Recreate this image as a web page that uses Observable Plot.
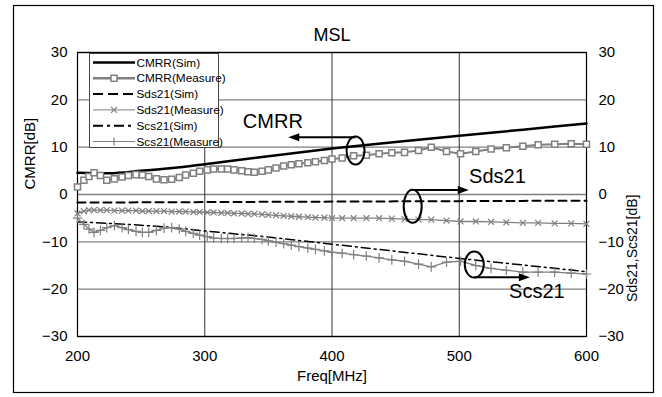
<!DOCTYPE html>
<html><head><meta charset="utf-8">
<script src="https://cdn.jsdelivr.net/npm/d3@7"></script>
<script src="https://cdn.jsdelivr.net/npm/@observablehq/plot@0.6"></script>
<style>body{margin:0;background:#fff}#chart{width:662px;height:397px}</style>
</head><body><div id="chart"></div>
<script>
// Measurement frequencies (MHz)
const freq = [200,205,209,213,218,223,229,235,240,246,251,256,262,268,274,280,285,291,296,302,307,313,318,323,329,334,339,345,350,356,362,368,374,381,387,394,400,408,417,427,437,447,457,468,478,490,501,513,525,537,550,562,575,588,600];
const cmrrMeasure = [1.6,3.0,3.8,4.6,4.0,3.0,3.3,3.7,4.0,4.2,4.1,3.8,3.3,3.1,3.2,3.6,4.1,4.5,4.9,5.2,5.4,5.4,5.4,5.2,5.0,4.8,4.7,4.9,5.2,5.6,6.0,6.3,6.5,6.7,6.9,7.2,7.5,7.7,8.2,8.3,8.6,8.8,8.9,9.3,10.0,9.1,8.6,9.1,9.6,9.9,10.2,10.5,10.6,10.7,10.6];
const sds21Measure = [-4.0,-3.5,-3.3,-3.3,-3.3,-3.3,-3.4,-3.4,-3.4,-3.4,-3.5,-3.5,-3.5,-3.5,-3.6,-3.6,-3.6,-3.7,-3.7,-3.8,-3.8,-3.9,-3.9,-4.0,-4.0,-4.1,-4.1,-4.2,-4.3,-4.4,-4.5,-4.6,-4.7,-4.8,-4.9,-4.9,-5.0,-5.0,-5.0,-5.0,-5.0,-5.1,-5.2,-5.3,-5.3,-5.5,-5.7,-5.7,-5.8,-5.9,-6.0,-6.0,-6.1,-6.1,-6.2];
const scs21Measure = [-5.0,-6.3,-7.3,-8.0,-7.6,-7.0,-6.6,-7.0,-7.4,-7.8,-8.0,-8.0,-7.6,-7.1,-7.0,-7.3,-7.8,-8.2,-8.6,-8.9,-9.2,-9.3,-9.3,-9.3,-9.2,-9.1,-9.3,-9.5,-9.8,-10.1,-10.4,-10.7,-11.0,-11.3,-11.6,-11.9,-12.2,-12.4,-12.7,-13.0,-13.4,-13.8,-14.1,-14.7,-15.3,-14.3,-14.1,-15.0,-15.6,-16.0,-16.4,-16.4,-16.4,-16.6,-16.8];
// Simulation
const simFreq = [200,225,250,275,300,350,400,450,500,550,600];
const cmrrSim = [4.6,4.5,5.0,5.6,6.4,8.1,9.7,11.1,12.4,13.7,15.0];
const sds21Sim = [-1.7,-1.7,-1.65,-1.65,-1.6,-1.55,-1.5,-1.45,-1.4,-1.35,-1.3];
const scs21Sim = [-5.8,-6.1,-6.5,-7.0,-7.7,-9.0,-10.5,-12.0,-13.5,-14.9,-16.3];
// Ticks & labels
const yTicks = [-30,-20,-10,0,10,20,30];
const xTicks = [200,300,400,500,600];
const legendLabels = ["CMRR(Sim)","CMRR(Measure)","Sds21(Sim)","Sds21(Measure)","Scs21(Sim)","Scs21(Measure)"];
const calloutNames = ["CMRR","Sds21","Scs21"];
// Callout anchors (data coordinates)
const calloutText = [[353.5,15.4],[530,3.8],[561,-20.6]];
const calloutEllipse = [[418.9,9.2],[463.8,-2.6],[512.2,-14.9]];
const calloutArrow = [[418.9,12.0,366],[463.8,0.84,507.9],[512.2,-17.6,555.9]];

const meas = freq.map((f,i)=>({f, cmrr:cmrrMeasure[i], sds:sds21Measure[i], scs:scs21Measure[i]}));
const sim = simFreq.map((f,i)=>({f, cmrr:cmrrSim[i], sds:sds21Sim[i], scs:scs21Sim[i]}));
const texts = calloutNames.map((n,i)=>({n, x:calloutText[i][0], y:calloutText[i][1]}));

const GRAY = "#808080";
const FONT = "'Liberation Sans', Arial, sans-serif";

function decor(index, scales, values, dims) {
  const {x, y} = scales;
  const g = d3.create("svg:g");
  g.append("rect").attr("x",13.5).attr("y",5.5).attr("width",640).attr("height",387)
    .attr("fill","none").attr("stroke","#000").attr("stroke-width",1.2);
  const radii = [[9,14],[9,16.5],[9.5,13]];
  calloutNames.forEach((n,i)=>{
    const [ex,ey] = calloutEllipse[i];
    g.append("ellipse").attr("cx",x(ex)).attr("cy",y(ey)).attr("rx",radii[i][0]).attr("ry",radii[i][1])
      .attr("fill","none").attr("stroke","#000").attr("stroke-width",2);
    const [ax1,ay,ax2] = calloutArrow[i];
    const x1 = x(ax1), x2 = x(ax2), yy = y(ay);
    const dir = Math.sign(x2-x1);
    g.append("line").attr("x1",x1).attr("x2",x2-dir*8).attr("y1",yy).attr("y2",yy)
      .attr("stroke","#000").attr("stroke-width",2);
    g.append("path").attr("d",`M${x2},${yy}L${x2-dir*11},${yy-4}L${x2-dir*11},${yy+4}Z`).attr("fill","#000");
  });
  // legend
  const lx = 89.5, ly = 53.5;
  const lg = g.append("g");
  lg.append("rect").attr("x",lx).attr("y",ly).attr("width",129).attr("height",94)
    .attr("fill","#fff").attr("stroke","#444").attr("stroke-width",1);
  const styles = [
    {stroke:"#000", w:2.5, dash:null, m:null},
    {stroke:GRAY, w:2.5, dash:null, m:"square"},
    {stroke:"#000", w:2, dash:"10,5", m:null},
    {stroke:GRAY, w:1, dash:null, m:"times"},
    {stroke:"#000", w:2, dash:"10,4,3,4", m:null},
    {stroke:GRAY, w:1, dash:null, m:"plus"}
  ];
  legendLabels.forEach((lab,i)=>{
    const cy = 62.5 + i*15.8;
    const s = styles[i];
    lg.append("line").attr("x1",93).attr("x2",135).attr("y1",cy).attr("y2",cy)
      .attr("stroke",s.stroke).attr("stroke-width",s.w).attr("stroke-dasharray",s.dash);
    const mx = 114;
    if (s.m==="square") lg.append("rect").attr("x",mx-3).attr("y",cy-3).attr("width",6).attr("height",6)
      .attr("fill","#fff").attr("stroke",GRAY).attr("stroke-width",1.5);
    if (s.m==="times") lg.append("path").attr("d",`M${mx-3},${cy-3}L${mx+3},${cy+3}M${mx-3},${cy+3}L${mx+3},${cy-3}`)
      .attr("stroke",GRAY).attr("stroke-width",1.2);
    if (s.m==="plus") lg.append("path").attr("d",`M${mx-4},${cy}L${mx+4},${cy}M${mx},${cy-4}L${mx},${cy+4}`)
      .attr("stroke",GRAY).attr("stroke-width",1.2);
    lg.append("text").attr("x",136.5).attr("y",cy).attr("dy","0.35em").attr("font-size",11.8)
      .attr("text-anchor","start").attr("fill","#000").text(lab);
  });
  return g.node();
}

const chart = Plot.plot({
  width: 662, height: 397,
  marginLeft: 77, marginRight: 76, marginTop: 52, marginBottom: 61,
  style: {fontFamily: FONT, fontSize: "15px", background: "#fff", color: "#000"},
  x: {domain: [200, 600]},
  y: {domain: [-30, 30]},
  marks: [
    Plot.gridY(yTicks, {stroke: GRAY, strokeOpacity: 1, strokeWidth: 1.3}),
    Plot.gridX([300,400,500], {stroke: "#333", strokeOpacity: 1, strokeWidth: 1}),
    Plot.frame({stroke: "#000", strokeWidth: 1.2}),
    Plot.axisY(yTicks, {anchor: "left", tickSize: 0, tickPadding: 10, label: null}),
    Plot.axisY(yTicks, {anchor: "right", tickSize: 0, tickPadding: 12, label: null}),
    Plot.axisX(xTicks, {anchor: "bottom", tickSize: 0, tickPadding: 14, label: null}),
    // Scs21
    Plot.line(sim, {x: "f", y: "scs", stroke: "#000", strokeWidth: 1.5, strokeDasharray: "9,4,2,4", curve: "monotone-x"}),
    Plot.line(meas, {x: "f", y: "scs", stroke: GRAY, strokeWidth: 1.3}),
    Plot.dot(meas, {x: "f", y: "scs", symbol: "plus", r: 3.2, stroke: GRAY, strokeWidth: 1.2}),
    // Sds21
    Plot.line(sim, {x: "f", y: "sds", stroke: "#000", strokeWidth: 2, strokeDasharray: "8,5"}),
    Plot.line(meas, {x: "f", y: "sds", stroke: GRAY, strokeWidth: 1.3}),
    Plot.dot(meas, {x: "f", y: "sds", symbol: "times", r: 2.8, stroke: GRAY, strokeWidth: 1.2}),
    // CMRR
    Plot.line(sim, {x: "f", y: "cmrr", stroke: "#000", strokeWidth: 2.5, curve: "monotone-x"}),
    Plot.line(meas, {x: "f", y: "cmrr", stroke: GRAY, strokeWidth: 2}),
    Plot.dot(meas, {x: "f", y: "cmrr", symbol: "square", r: 3.4, fill: "#fff", stroke: GRAY, strokeWidth: 1.5}),
    // callout texts
    Plot.text(texts, {x: "x", y: "y", text: "n", fontSize: 20, fill: "#000"}),
    // titles
    Plot.text(["MSL"], {frameAnchor: "top", dy: -24, fontSize: 18, fill: "#000"}),
    Plot.text(["Freq[MHz]"], {frameAnchor: "bottom", dy: 44, fontSize: 15, fill: "#000"}),
    Plot.text(["CMRR[dB]"], {frameAnchor: "left", dx: -47, dy: -5, rotate: -90, fontSize: 15, fill: "#000"}),
    Plot.text(["Sds21,Scs21[dB]"], {frameAnchor: "right", dx: 46, rotate: -90, fontSize: 14, fill: "#000"}),
    decor
  ]
});
document.getElementById("chart").append(chart);
</script>
</body></html>
